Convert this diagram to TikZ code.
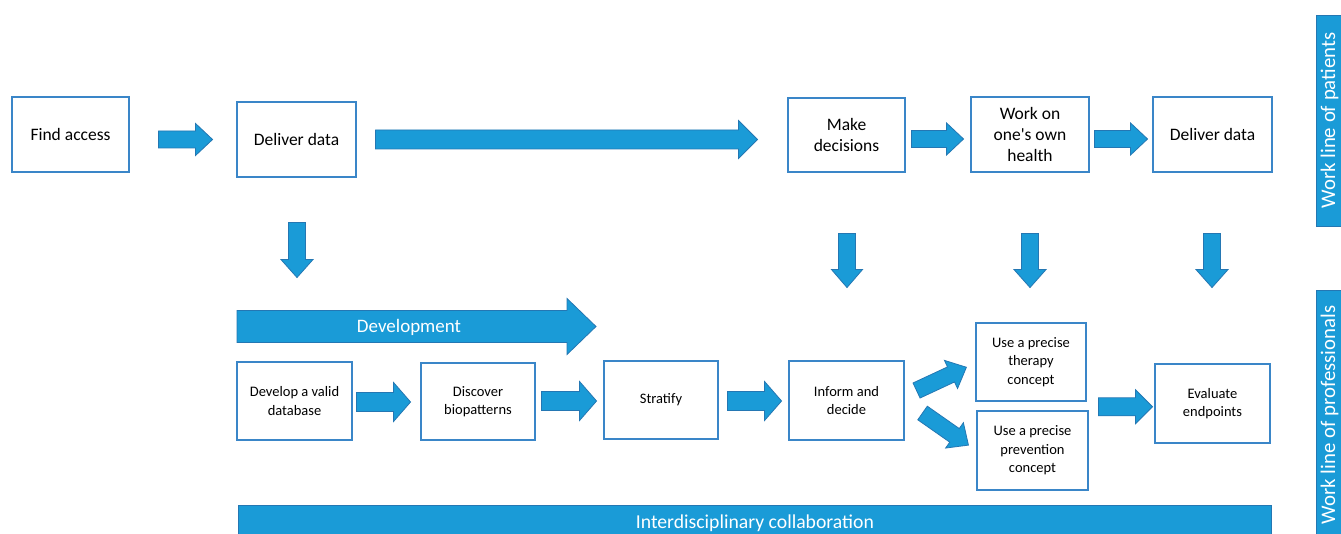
\documentclass[tikz,border=0pt]{standalone}
\usepackage{fontspec}
\setmainfont{Carlito}
\usetikzlibrary{calc}
\definecolor{flowblue}{HTML}{1A9BD7}
\definecolor{flowedge}{HTML}{2477B3}
\definecolor{boxedge}{HTML}{3A86C8}

\tikzset{
  stepbox/.style={draw=boxedge, line width=1.1pt, fill=white, align=center, inner sep=2pt},
  topbox/.style={stepbox, font=\fontsize{17.5}{21}\selectfont},
  lowbox/.style={stepbox, font=\fontsize{14.5}{18.5}\selectfont},
  arrowbody/.style={fill=flowblue, draw=flowedge, line width=0.8pt, line join=miter},
  bandlabel/.style={fill=flowblue, draw=flowedge, line width=0.8pt, text=white, inner sep=0pt},
  sidetext/.style={text=white, rotate=90, inner sep=0pt, font=\fontsize{20.8}{24}\selectfont},
  % block arrow along +x: length / shaft half-width / head half-width / head length
  pics/blockarrow/.style args={#1/#2/#3/#4}{code={
    \path[arrowbody] (0,-#2) -- ({#1-#4},-#2) -- ({#1-#4},-#3) -- (#1,0)
      -- ({#1-#4},#3) -- ({#1-#4},#2) -- (0,#2) -- cycle;}},
}

\begin{document}
\begin{tikzpicture}[x=1pt,y=-1pt]
  \useasboundingbox (0,0) rectangle (1341,534);
  \fill[white] (0,0) rectangle (1341,534);
  \clip (0,0) rectangle (1341,534);

  % patient work line
  \node[topbox, minimum width=117pt, minimum height=75pt] (find)  at (70.5,134.5)  {Find access};
  \node[topbox, minimum width=119pt, minimum height=75pt] (deliv1) at (296.5,139.5) {Deliver data};
  \node[topbox, minimum width=117pt, minimum height=74pt] (make)  at (846.5,135)   {Make\\decisions};
  \node[topbox, minimum width=118pt, minimum height=75pt] (work)  at (1030,134.5)  {Work on\\one\textquotesingle s own\\health};
  \node[topbox, minimum width=119pt, minimum height=75pt] (deliv2) at (1212.5,134.5) {Deliver data};

  % professional work line
  \node[lowbox, minimum width=115pt, minimum height=78pt] (valid)  at (294.5,401)   {Develop a valid\\database};
  \node[lowbox, minimum width=114pt, minimum height=77pt] (bio)    at (478,401.5)   {Discover\\biopatterns};
  \node[lowbox, minimum width=114pt, minimum height=78pt] (strat)  at (661,400)     {Stratify};
  \node[lowbox, minimum width=115pt, minimum height=79pt] (inform) at (846.5,400.5) {Inform and\\decide};
  \node[lowbox, minimum width=110pt, minimum height=78pt] (ther)   at (1031,362)    {Use a precise\\therapy\\concept};
  \node[lowbox, minimum width=111pt, minimum height=79pt] (prev)   at (1032.5,450.5) {Use a precise\\prevention\\concept};
  \node[lowbox, minimum width=115pt, minimum height=79pt] (evalp)  at (1212.5,403.5) {Evaluate\\endpoints};

  % horizontal arrows, top row
  \pic at ($(find.east)+(29,5)$)   {blockarrow=54/8.5/16/17};
  \pic at ($(deliv1.east)+(19,0)$) {blockarrow=382/9.5/19/19};
  \pic at ($(make.east)+(6,4)$)    {blockarrow=52/8.5/16/17};
  \pic at ($(work.east)+(5,4.5)$)  {blockarrow=53/8.5/16/17};

  % downward arrows between the two lines
  \pic[rotate=-90] at ($(deliv1.south)+(0.5,45)$) {blockarrow=55/8.5/16/18};
  \pic[rotate=-90] at ($(make.south)+(0.5,61)$)   {blockarrow=54/8.5/15.5/18};
  \pic[rotate=-90] at ($(work.south)+(0,61)$)     {blockarrow=54/8.5/16/18};
  \pic[rotate=-90] at ($(deliv2.south)+(-0.5,61)$) {blockarrow=54/8.5/16/18};

  % development arrow
  \pic at (237,326.5) {blockarrow=359/16/28/29};
  \node[text=white, font=\fontsize{19}{22}\selectfont] (devlabel) at (409,327) {Development};

  % horizontal arrows, bottom row
  \pic at ($(valid.east)+(4,1)$)  {blockarrow=54/9.5/19.5/17};
  \pic at ($(bio.east)+(6,-0.5)$) {blockarrow=55/9.5/19.5/17};
  \pic at ($(strat.east)+(9,1)$)  {blockarrow=54/9.5/19.5/17};
  \pic at ($(ther.east)!0.5!(prev.east)+(11,0.5)$) {blockarrow=54/9/17/17};

  % diagonal arrows towards therapy and prevention
  \pic[rotate=25]  at ($(inform.east)+(12,-10)$) {blockarrow=55/8.3/15.5/17};
  \pic[rotate=-35] at ($(inform.east)+(18,12.5)$) {blockarrow=56/8.3/15.5/17};

  % collaboration bar
  \node[bandlabel, anchor=north west, minimum width=1033pt, minimum height=36pt,
        font=\fontsize{19.7}{23}\selectfont] (collab) at (238,505) {Interdisciplinary collaboration};

  % work line labels on the right edge
  \node[bandlabel, minimum width=34pt, minimum height=211pt] (patientsbar) at (1333,120.5) {};
  \node[sidetext] (patients) at (1329.5,120.5) {Work line of patients};
  \node[bandlabel, minimum width=34pt, minimum height=250pt] (profsbar) at (1333.5,415) {};
  \node[sidetext] (profs) at (1329.5,415) {Work line of professionals};
\end{tikzpicture}
\end{document}
